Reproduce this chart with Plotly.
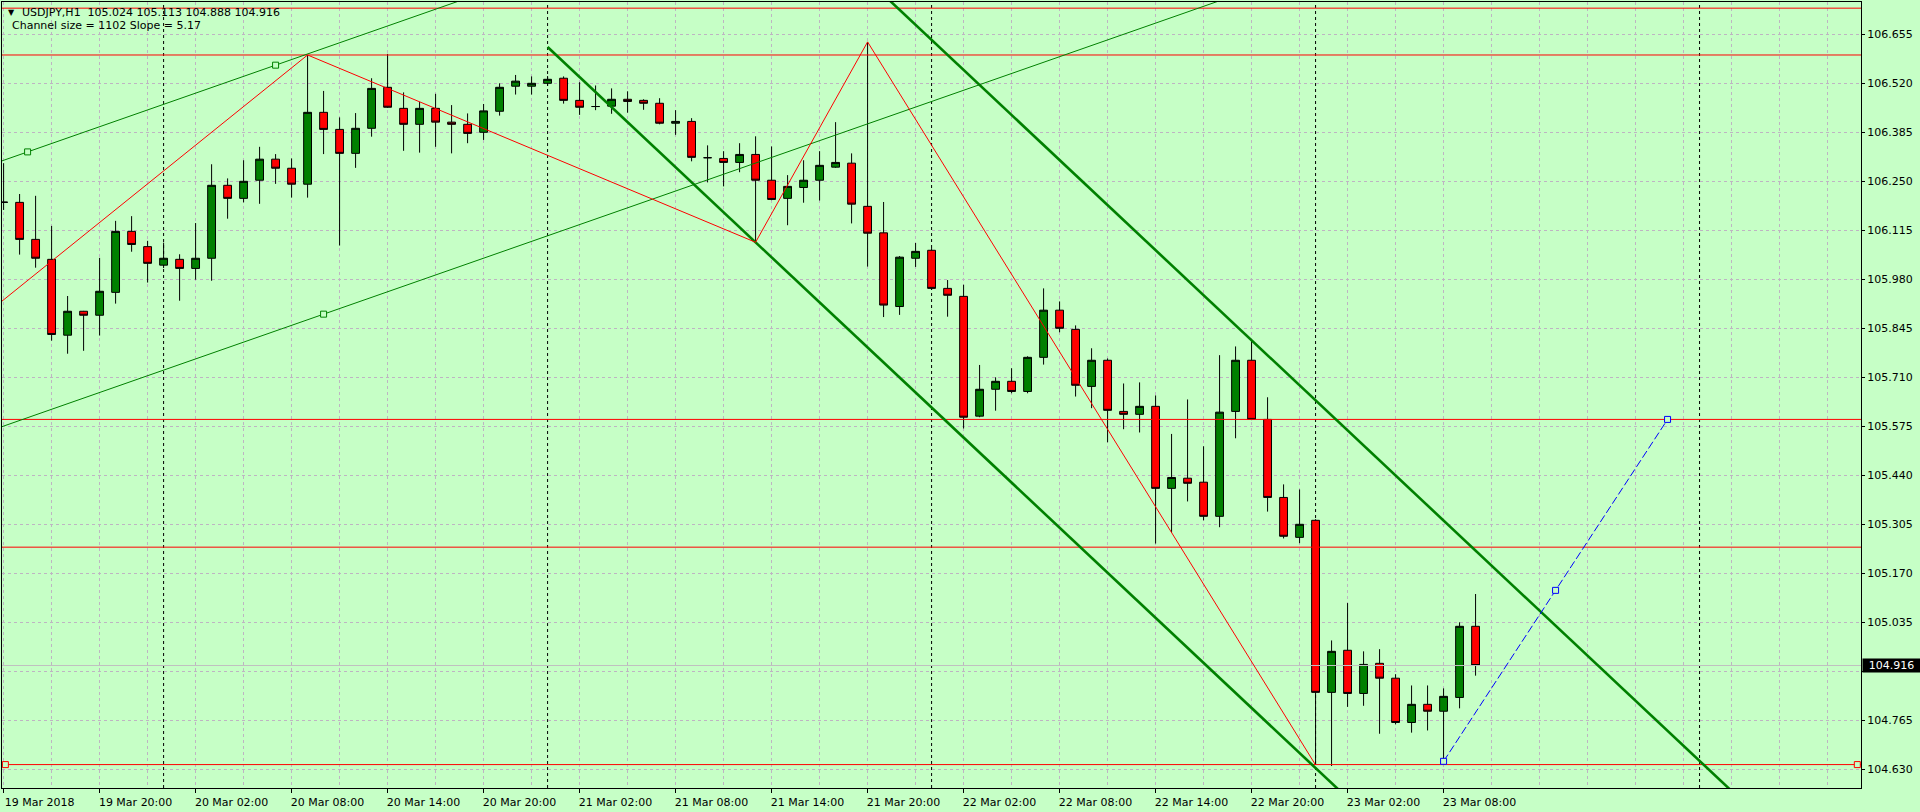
import pandas as pd
import plotly.graph_objects as go

# ---------------- data (USDJPY, H1) ----------------
start = pd.Timestamp("2018-03-19 14:00")

opens = [106.193, 106.192, 106.090, 106.035, 105.826, 105.892, 105.881, 105.944, 106.112, 106.070,
         106.019, 106.035, 106.010, 106.038, 106.239, 106.203, 106.253, 106.311, 106.286, 106.242,
         106.440, 106.393, 106.327, 106.396, 106.509, 106.451, 106.407, 106.451, 106.413, 106.407,
         106.385, 106.443, 106.512, 106.512, 106.520, 106.534, 106.473, 106.456, 106.457, 106.476,
         106.473, 106.465, 106.410, 106.415, 106.315, 106.313, 106.302, 106.324, 106.253, 106.203,
         106.233, 106.253, 106.289, 106.300, 106.181, 106.108, 105.905, 106.038, 106.060, 105.955,
         105.933, 105.603, 105.677, 105.699, 105.671, 105.765, 105.895, 105.842, 105.685, 105.757,
         105.616, 105.608, 105.630, 105.404, 105.432, 105.421, 105.327, 105.616, 105.757, 105.594,
         105.379, 105.269, 105.316, 104.842, 104.958, 104.839, 104.922, 104.881, 104.759, 104.809,
         104.790, 104.828, 105.024]
highs = [106.300, 106.215, 106.210, 106.127, 105.934, 105.893, 106.039, 106.141, 106.154, 106.086,
         106.081, 106.049, 106.135, 106.297, 106.258, 106.308, 106.345, 106.325, 106.313, 106.598,
         106.499, 106.426, 106.438, 106.534, 106.601, 106.495, 106.469, 106.491, 106.460, 106.437,
         106.463, 106.520, 106.543, 106.539, 106.540, 106.539, 106.523, 106.514, 106.506, 106.498,
         106.476, 106.479, 106.446, 106.424, 106.349, 106.333, 106.355, 106.374, 106.346, 106.267,
         106.308, 106.333, 106.413, 106.327, 106.634, 106.193, 106.044, 106.080, 106.066, 105.978,
         105.965, 105.744, 105.710, 105.735, 105.768, 105.955, 105.919, 105.853, 105.790, 105.762,
         105.693, 105.696, 105.660, 105.554, 105.649, 105.520, 105.771, 105.795, 105.812, 105.655,
         105.415, 105.401, 105.319, 104.985, 105.088, 104.955, 104.961, 104.892, 104.861, 104.861,
         104.853, 105.035, 105.113]
lows = [106.171, 106.048, 106.012, 105.811, 105.775, 105.783, 105.825, 105.913, 106.056, 105.971,
        106.011, 105.921, 105.979, 105.976, 106.147, 106.192, 106.188, 106.243, 106.205, 106.205,
        106.325, 106.073, 106.287, 106.373, 106.452, 106.334, 106.329, 106.345, 106.327, 106.355,
        106.364, 106.431, 106.489, 106.489, 106.513, 106.464, 106.433, 106.446, 106.436, 106.439,
        106.447, 106.407, 106.378, 106.305, 106.247, 106.236, 106.275, 106.082, 106.198, 106.129,
        106.191, 106.197, 106.287, 106.134, 106.015, 105.876, 105.882, 106.014, 105.951, 105.877,
        105.569, 105.600, 105.618, 105.666, 105.666, 105.745, 105.834, 105.657, 105.625, 105.531,
        105.567, 105.558, 105.252, 105.282, 105.368, 105.316, 105.297, 105.542, 105.592, 105.340,
        105.266, 105.253, 104.642, 104.639, 104.802, 104.805, 104.728, 104.754, 104.731, 104.737,
        104.652, 104.798, 104.888]
closes = [106.192, 106.090, 106.038, 105.828, 105.892, 105.881, 105.947, 106.112, 106.076, 106.024,
          106.038, 106.010, 106.038, 106.239, 106.203, 106.250, 106.311, 106.286, 106.242, 106.440,
          106.393, 106.327, 106.396, 106.506, 106.454, 106.407, 106.451, 106.413, 106.407, 106.382,
          106.444, 106.509, 106.526, 106.520, 106.531, 106.473, 106.454, 106.456, 106.476, 106.470,
          106.465, 106.410, 106.415, 106.316, 106.315, 106.302, 106.324, 106.253, 106.200, 106.236,
          106.253, 106.294, 106.302, 106.187, 106.107, 105.909, 106.041, 106.057, 105.955, 105.936,
          105.600, 105.677, 105.699, 105.671, 105.765, 105.895, 105.845, 105.688, 105.757, 105.619,
          105.608, 105.630, 105.404, 105.434, 105.418, 105.327, 105.614, 105.757, 105.594, 105.379,
          105.272, 105.305, 104.842, 104.955, 104.839, 104.919, 104.881, 104.759, 104.809, 104.790,
          104.831, 105.024, 104.916]

tick_hours = [0, 6, 12, 18, 24, 30, 36, 42, 48, 54, 60, 66, 72, 78, 84, 90]
tick_labels = ["19 Mar 2018", "19 Mar 20:00", "20 Mar 02:00", "20 Mar 08:00", "20 Mar 14:00",
               "20 Mar 20:00", "21 Mar 02:00", "21 Mar 08:00", "21 Mar 14:00", "21 Mar 20:00",
               "22 Mar 02:00", "22 Mar 08:00", "22 Mar 14:00", "22 Mar 20:00", "23 Mar 02:00",
               "23 Mar 08:00"]
price_ticks = [104.630, 104.765, 104.900, 105.035, 105.170, 105.305, 105.440, 105.575,
               105.710, 105.845, 105.980, 106.115, 106.250, 106.385, 106.520, 106.655]
# the 104.900 label sits under the current-price box in the original
price_labels = ["104.630", "104.765", "", "105.035", "105.170", "105.305", "105.440", "105.575",
                "105.710", "105.845", "105.980", "106.115", "106.250", "106.385", "106.520", "106.655"]

red_levels = [106.727, 106.598, 105.594, 105.242, 104.643]
day_sep_hours = [10, 34, 58, 82, 106]
bid_price = 104.916

# drawing objects (hour offset, price)
zigzag_hours = [-1, 19, 47, 54, 82]
zigzag_prices = [105.888, 106.598, 106.082, 106.634, 104.642]
thin_upper_pts = [(1.5, 106.331), (17, 106.570)]
thin_lower_pt = (20, 105.884)
thick_lower_pts = [(34, 106.620), (47, 106.082)]
thick_upper_pt = (78, 105.812)
blue_hours = [90, 97, 104]
blue_prices = [104.652, 105.123, 105.594]

# ---------------- helpers ----------------
def T(h):
    return start + pd.Timedelta(hours=h)

times = [T(i) for i in range(len(opens))]
x_range = [T(-0.1), T(116.09)]
y_range = [104.5785, 106.744]

BG = "#C6FFC6"
GRID = "#BEB4C2"
GREEN = "#008000"
RED = "#FF0000"

fig = go.Figure()

def add_line(xs, ys, color, width=1, dash="solid"):
    fig.add_trace(go.Scatter(x=xs, y=ys, mode="lines", line=dict(color=color, width=width, dash=dash),
                             hoverinfo="skip", showlegend=False))

# candles
fig.add_trace(go.Candlestick(
    x=times, open=opens, high=highs, low=lows, close=closes,
    increasing=dict(line=dict(color="black", width=1), fillcolor=GREEN),
    decreasing=dict(line=dict(color="black", width=1), fillcolor=RED),
    whiskerwidth=0, hoverinfo="none", showlegend=False))

# bid line
add_line([x_range[0], x_range[1]], [bid_price, bid_price], "#C0C0C0", 1)

# red horizontal lines
for lv in red_levels:
    add_line([x_range[0], x_range[1]], [lv, lv], RED, 1)

# thin green channel
(h1, p1), (h2, p2) = thin_upper_pts
slope_thin = (p2 - p1) / (h2 - h1)
ext = [-2, 118]
add_line([T(h) for h in ext], [p1 + slope_thin * (h - h1) for h in ext], GREEN, 1)
add_line([T(h) for h in ext], [thin_lower_pt[1] + slope_thin * (h - thin_lower_pt[0]) for h in ext], GREEN, 1)
fig.add_trace(go.Scatter(x=[T(h1), T(h2), T(thin_lower_pt[0])], y=[p1, p2, thin_lower_pt[1]],
                         mode="markers", marker=dict(symbol="square", size=6, color=BG,
                                                     line=dict(color=GREEN, width=1)),
                         hoverinfo="skip", showlegend=False))

# thick green descending channel
(a1, q1), (a2, q2) = thick_lower_pts
slope_thick = (q2 - q1) / (a2 - a1)
add_line([T(a1), T(118)], [q1, q1 + slope_thick * (118 - a1)], GREEN, 2.6)
add_line([T(45), T(118)], [thick_upper_pt[1] + slope_thick * (h - thick_upper_pt[0]) for h in (45, 118)],
         GREEN, 2.6)

# red zigzag
add_line([T(h) for h in zigzag_hours], zigzag_prices, RED, 1)

# blue dashed projection
add_line([T(h) for h in blue_hours], blue_prices, "#0000FF", 1, "8px,3px")
fig.add_trace(go.Scatter(x=[T(h) for h in blue_hours], y=blue_prices, mode="markers",
                         marker=dict(symbol="square", size=6, color=BG, line=dict(color="#0000FF", width=1)),
                         hoverinfo="skip", showlegend=False))

# red end markers of bottom level
fig.add_trace(go.Scatter(x=[T(0.11), T(115.86)], y=[red_levels[-1], red_levels[-1]], mode="markers",
                         marker=dict(symbol="square", size=6, color=BG, line=dict(color=RED, width=1)),
                         hoverinfo="skip", showlegend=False, cliponaxis=False))

# day separators: dotted black verticals, drawn between grid and candles
shapes = [dict(type="line", xref="x", yref="paper", x0=T(h), x1=T(h), y0=0, y1=1, layer="between",
               line=dict(color="black", width=1, dash="3px,3px")) for h in day_sep_hours]

# ---------------- layout ----------------
PL, PR, PT, PB = 2, 1861, 2, 788
def px_x(px):
    return (px - PL) / (PR - PL)
def px_y(py):
    return (PB - py) / (PB - PT)

fig.update_layout(
    width=1920, height=812,
    margin=dict(l=2, r=59, t=2, b=24, pad=0),
    paper_bgcolor=BG, plot_bgcolor=BG,
    font=dict(family="DejaVu Sans", size=11, color="black"),
    hovermode=False, showlegend=False,
    shapes=shapes,
    xaxis=dict(
        type="date", range=x_range, rangeslider=dict(visible=False),
        tickvals=[T(h) for h in tick_hours], ticktext=tick_labels,
        ticks="outside", ticklen=4, tickcolor="black", ticklabelshift=36,
        showline=True, linecolor="black", linewidth=1, mirror=True,
        showgrid=True, gridcolor=GRID, griddash="3px,3px", gridwidth=1,
        minor=dict(dtick=3 * 3600 * 1000, tick0=start, showgrid=True, gridcolor=GRID,
                   griddash="3px,3px", gridwidth=1, ticks=""),
        zeroline=False, automargin=False, fixedrange=True,
    ),
    yaxis=dict(
        side="right", range=y_range,
        tickvals=price_ticks, ticktext=price_labels,
        ticks="outside", ticklen=3, tickcolor="black",
        showline=True, linecolor="black", linewidth=1, mirror=True,
        showgrid=True, gridcolor=GRID, griddash="3px,3px", gridwidth=1,
        zeroline=False, automargin=False, fixedrange=True,
    ),
    annotations=[
        dict(xref="paper", yref="paper", x=px_x(11), y=px_y(12.5), text="▼", showarrow=False,
             xanchor="center", yanchor="middle", font=dict(size=8, color="black")),
        dict(xref="paper", yref="paper", x=px_x(20), y=px_y(12.5),
             text="USDJPY,H1  105.024 105.113 104.888 104.916", showarrow=False,
             xanchor="left", yanchor="middle", font=dict(size=11, color="black")),
        dict(xref="paper", yref="paper", x=px_x(10), y=px_y(25.5),
             text="Channel size = 1102 Slope = 5.17", showarrow=False,
             xanchor="left", yanchor="middle", font=dict(size=11, color="black")),
        dict(xref="paper", yref="y", x=1, xshift=1, y=bid_price, text="104.916", showarrow=False,
             xanchor="left", yanchor="middle", bgcolor="black", width=55, height=11, borderpad=1,
             align="center", font=dict(size=11, color="white")),
    ],
)

fig.write_html("out.html", config={"displayModeBar": False},
               post_script="document.body.style.margin='0px';document.body.style.overflow='hidden';")
